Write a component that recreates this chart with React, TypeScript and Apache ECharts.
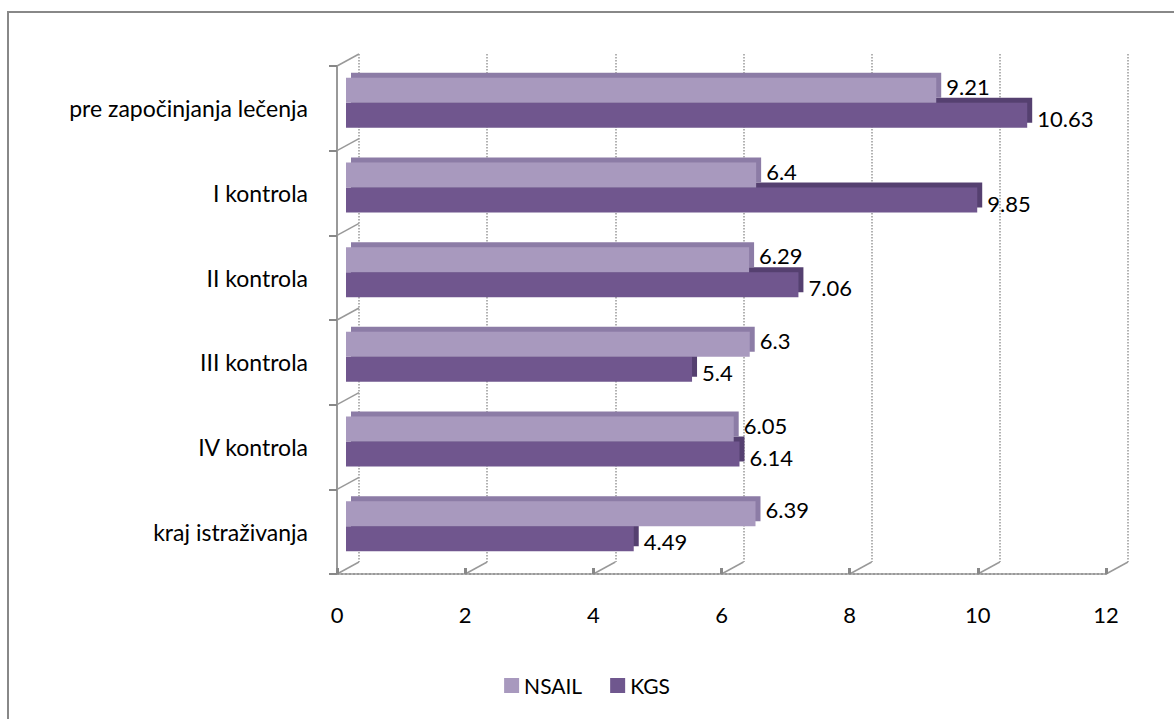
import React, { useEffect, useRef } from "react";
import * as echarts from "echarts";

const categories = [
  "pre započinjanja lečenja",
  "I kontrola",
  "II kontrola",
  "III kontrola",
  "IV kontrola",
  "kraj istraživanja",
];
const nsail = [9.21, 6.4, 6.29, 6.3, 6.05, 6.39];
const kgs = [10.63, 9.85, 7.06, 5.4, 6.14, 4.49];
const xTicks = [0, 2, 4, 6, 8, 10, 12];

const FONT = "Lato, 'Open Sans', sans-serif";
const LIGHT = "#A899BE";
const DARK = "#6F578E";

export default function App() {
  const ref = useRef<HTMLDivElement>(null);
  useEffect(() => {
    const chart = echarts.init(ref.current!, null, { renderer: "svg" });
    const option: any = {
      animation: false,
      backgroundColor: "#fff",
      textStyle: { fontFamily: FONT },
      grid: [
        { left: 337, right: 68, top: 66, bottom: 145 },
        { left: 346, right: 59, top: 60.5, bottom: 150.5 },
        { left: 359, right: 46, top: 54, bottom: 157 },
      ],
      xAxis: [
        {
          gridIndex: 0,
          type: "value",
          min: 0,
          max: 12,
          interval: 2,
          axisLine: { show: true, lineStyle: { color: "#999", width: 2, type: "dotted" } },
          axisTick: { show: true, length: 6, inside: true, lineStyle: { color: "#888", width: 3 } },
          axisLabel: { color: "#000", fontSize: 22, margin: 29, fontFamily: FONT },
          splitLine: { show: false },
        },
        {
          gridIndex: 1,
          type: "value",
          min: 0,
          max: 12,
          interval: 2,
          show: false,
        },
        {
          gridIndex: 2,
          type: "value",
          min: 0,
          max: 12,
          interval: 2,
          axisLine: { show: false },
          axisTick: { show: false },
          axisLabel: { show: false },
          splitLine: { show: true, lineStyle: { color: "#999", type: "dotted", width: 1.5 } },
        },
      ],
      yAxis: [
        {
          gridIndex: 0,
          type: "category",
          data: categories,
          inverse: true,
          axisLine: { show: true, lineStyle: { color: "#999", width: 2 } },
          axisTick: { show: true, length: 8, lineStyle: { color: "#888", width: 2 } },
          axisLabel: { color: "#000", fontSize: 23, margin: 29, fontFamily: FONT },
        },
        {
          gridIndex: 1,
          type: "category",
          data: categories,
          inverse: true,
          show: false,
        },
        {
          gridIndex: 2,
          type: "category",
          data: categories,
          inverse: true,
          show: false,
        },
      ],
      legend: {
        bottom: 18,
        left: "center",
        itemWidth: 15,
        itemHeight: 15,
        itemGap: 28,
        icon: "rect",
        textStyle: { color: "#000", fontSize: 21, fontFamily: FONT },
        data: ["NSAIL", "KGS"],
      },
      series: [
        {
          name: "NSAIL",
          type: "bar",
          xAxisIndex: 1,
          yAxisIndex: 1,
          data: nsail,
          barWidth: 25,
          barGap: "0%",
          z: 4,
          itemStyle: {
            color: LIGHT,
            shadowColor: "#8C7BA6",
            shadowOffsetX: 5,
            shadowOffsetY: -5,
            shadowBlur: 0,
          },
          label: {
            show: true,
            position: "right",
            distance: 10,
            color: "#000",
            fontSize: 22,
            fontFamily: FONT,
            offset: [0, -4],
          },
        },
        {
          name: "KGS",
          type: "bar",
          xAxisIndex: 1,
          yAxisIndex: 1,
          data: kgs,
          barWidth: 25,
          barGap: "0%",
          z: 3,
          itemStyle: {
            color: DARK,
            shadowColor: "#55406F",
            shadowOffsetX: 5,
            shadowOffsetY: -5,
            shadowBlur: 0,
          },
          label: {
            show: true,
            position: "right",
            distance: 10,
            color: "#000",
            fontSize: 22,
            fontFamily: FONT,
            offset: [0, 3],
          },
        },
      ],
    };
    chart.setOption(option);

    const graphics: any[] = [
      {
        type: "rect",
        shape: { x: 8, y: 12, width: 1300, height: 900 },
        style: { fill: "none", stroke: "#888", lineWidth: 2 },
        silent: true,
        z: -10,
      },
    ];
    xTicks.forEach((t) => {
      const front = chart.convertToPixel({ xAxisIndex: 0 }, t);
      const back = chart.convertToPixel({ xAxisIndex: 2 }, t);
      if (typeof front === "number" && typeof back === "number") {
        graphics.push({
          type: "line",
          shape: { x1: front, y1: 574, x2: back, y2: 562 },
          style: { stroke: "#999", lineWidth: 1.5 },
          silent: true,
        });
      }
    });
    categories.forEach((_c, i) => {
      const yf0 = chart.convertToPixel({ yAxisIndex: 0 }, i);
      const yb0 = chart.convertToPixel({ yAxisIndex: 2 }, i);
      if (typeof yf0 === "number" && typeof yb0 === "number") {
        const half = 42.3;
        graphics.push({
          type: "line",
          shape: { x1: 337, y1: yf0 - half, x2: 359, y2: yb0 - half },
          style: { stroke: "#999", lineWidth: 1.5 },
          silent: true,
        });
      }
    });
    chart.setOption({ graphic: graphics });
    return () => chart.dispose();
  }, []);
  return (
    <div
      ref={ref}
      style={{ position: "fixed", left: 0, top: 0, width: 1174, height: 719 }}
    />
  );
}
